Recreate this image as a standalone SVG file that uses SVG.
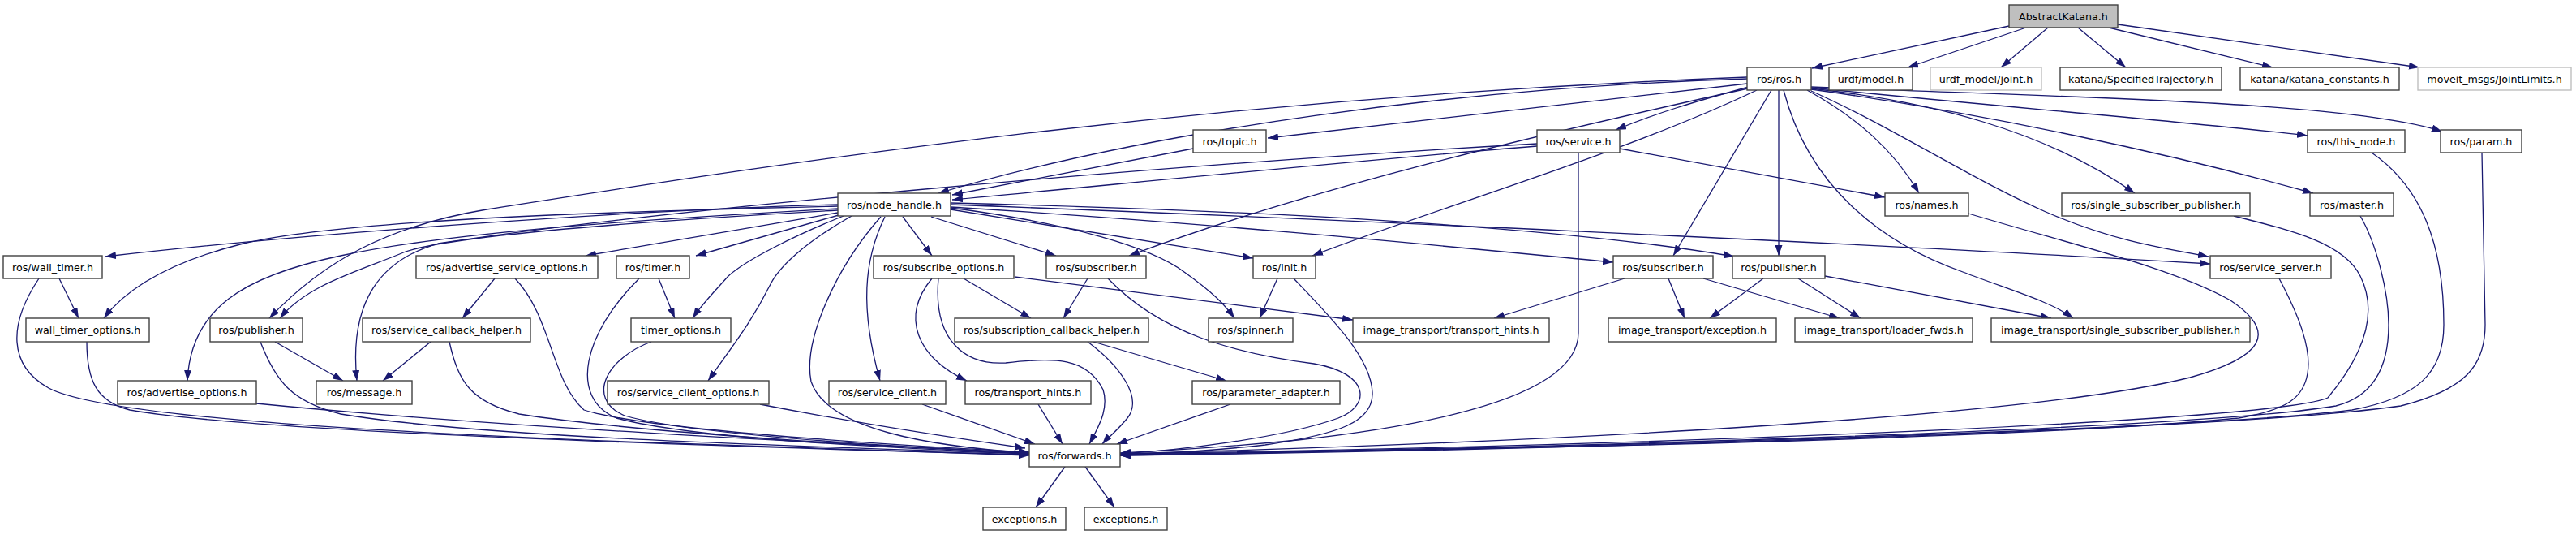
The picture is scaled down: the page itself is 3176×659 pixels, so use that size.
<svg xmlns="http://www.w3.org/2000/svg" width="3176" height="659" viewBox="0 0 3176 659">
<style>
.b{fill:#fff;stroke:#404040;stroke-width:1.4}
.g{fill:#fff;stroke:#bfbfbf;stroke-width:1.4}
.r{fill:#bfbfbf;stroke:#404040;stroke-width:1.4}
text{font-family:"DejaVu Sans",sans-serif;font-size:12.7px;fill:#000;text-anchor:middle}
.e path{fill:none;stroke:#191970;stroke-width:1.3;marker-end:url(#a)}
</style>
<defs>
<marker id="a" markerUnits="userSpaceOnUse" markerWidth="13" markerHeight="9" refX="13" refY="4.5" orient="auto"><path d="M0,0 L13,4.5 L0,9 z" fill="#191970"/></marker>
</defs>
<rect width="3176" height="659" fill="#fff"/>
<g class="e" id="connectors">
<path d="M2477,32 L2234,84"/>
<path d="M2498,34 L2352,83"/>
<path d="M2525,34 L2467,83"/>
<path d="M2562,34 L2621,83"/>
<path d="M2600,34 L2802,83"/>
<path d="M2611,30 L2983,83"/>
<path d="M2154,97 C1800,108 1420,160 1157,238"/>
<path d="M2154,95 C1500,120 1000,195 600,258 C480,278 400,320 332,392"/>
<path d="M2154,103 C1950,125 1750,150 1563,170"/>
<path d="M2156,107 C2090,125 2040,140 1992,160"/>
<path d="M2155,109 C1900,165 1620,230 1392,315"/>
<path d="M2166,111 C2000,190 1760,260 1618,315"/>
<path d="M2184,111 L2063,315"/>
<path d="M2193,111 L2193,315"/>
<path d="M2199,111 C2230,230 2320,300 2420,335 C2480,358 2530,372 2556,392"/>
<path d="M2228,111 C2290,145 2335,185 2366,238"/>
<path d="M2233,109 C2380,125 2520,160 2632,238"/>
<path d="M2233,108 C2450,130 2700,150 2845,167"/>
<path d="M2233,107 C2550,120 2900,125 3011,162"/>
<path d="M2233,110 C2450,140 2680,190 2852,238"/>
<path d="M2233,112 C2340,160 2420,215 2520,260 C2600,295 2660,305 2723,316"/>
<path d="M1471,183 L1174,240"/>
<path d="M1895,180 C1700,195 1400,225 1174,246"/>
<path d="M1895,177 C1400,205 800,260 540,300 C470,320 430,370 440,469"/>
<path d="M1997,183 L2324,243"/>
<path d="M1946,188 L1946,410 C1946,480 1800,520 1600,542 C1500,552 1420,556 1381,558"/>
<path d="M1033,252 C800,258 400,285 130,316"/>
<path d="M1033,254 C700,262 420,272 300,300 C220,320 160,350 128,392"/>
<path d="M1033,257 C800,270 560,285 420,315 C300,340 235,380 231,469"/>
<path d="M1033,259 C800,272 560,290 500,310 C440,335 380,350 345,392"/>
<path d="M1033,262 L722,315"/>
<path d="M1034,265 L858,315"/>
<path d="M1040,266 C980,290 920,320 898,340 C880,360 865,375 854,392"/>
<path d="M1050,266 C990,300 960,330 950,350 C925,400 900,430 873,469"/>
<path d="M1086,267 C1030,330 990,420 1000,470 C1020,530 1150,550 1269,558"/>
<path d="M1091,267 C1065,320 1060,380 1085,469"/>
<path d="M1113,267 L1149,315"/>
<path d="M1148,267 L1302,315"/>
<path d="M1172,258 L1545,318"/>
<path d="M1172,256 C1320,275 1420,305 1460,335 C1495,360 1510,375 1522,392"/>
<path d="M1172,250 C1500,258 1900,275 2138,316"/>
<path d="M1172,252 C1600,268 2300,300 2725,325"/>
<path d="M1172,255 C1500,275 1800,305 1989,323"/>
<path d="M73,343 L97,392"/>
<path d="M48,343 C10,400 10,450 60,478 C120,510 400,530 800,545 C1000,553 1150,558 1269,561"/>
<path d="M107,421 C107,470 120,495 160,505 C300,530 800,548 1269,560"/>
<path d="M339,421 L423,469"/>
<path d="M321,421 C340,470 360,495 420,510 C600,540 1000,550 1269,559"/>
<path d="M531,421 L472,469"/>
<path d="M554,421 C565,470 580,495 640,510 C800,535 1100,550 1269,558"/>
<path d="M610,343 L570,392"/>
<path d="M635,343 C680,390 680,470 720,505 C800,530 1100,548 1269,557"/>
<path d="M316,497 C600,525 1000,545 1269,558"/>
<path d="M812,343 L832,392"/>
<path d="M788,343 C720,410 700,490 760,515 C850,540 1100,552 1269,559"/>
<path d="M803,421 C750,440 720,490 770,512 C850,535 1100,550 1269,558"/>
<path d="M937,498 C1050,520 1180,540 1264,552"/>
<path d="M1137,498 L1276,547"/>
<path d="M1280,498 L1310,547"/>
<path d="M1149,343 C1110,390 1130,440 1192,469"/>
<path d="M1157,343 C1150,420 1190,450 1240,447 C1300,440 1340,440 1360,480 C1368,505 1352,530 1343,547"/>
<path d="M1188,343 L1271,392"/>
<path d="M1251,341 L1668,394"/>
<path d="M1341,343 L1311,392"/>
<path d="M1366,343 C1430,410 1520,435 1620,448 C1690,460 1690,500 1650,515 C1580,540 1450,555 1381,559"/>
<path d="M1575,343 L1553,392"/>
<path d="M1595,343 C1640,390 1690,440 1692,483 C1694,520 1650,535 1560,548 C1480,557 1420,559 1381,561"/>
<path d="M1348,421 L1512,469"/>
<path d="M1341,421 C1380,450 1410,490 1390,515 C1378,530 1365,540 1359,547"/>
<path d="M1517,498 L1377,547"/>
<path d="M2174,343 L2108,392"/>
<path d="M2217,343 L2294,392"/>
<path d="M2250,340 L2529,392"/>
<path d="M2003,343 L1842,392"/>
<path d="M2057,343 L2077,392"/>
<path d="M2100,343 L2268,392"/>
<path d="M2427,263 C2550,300 2680,330 2750,370 C2810,410 2790,440 2700,465 C2500,515 1900,545 1381,559"/>
<path d="M2754,266 C2830,285 2890,300 2910,340 C2930,380 2920,430 2870,490 C2800,520 2000,550 1381,559"/>
<path d="M2910,266 C2930,300 2945,360 2945,400 C2945,460 2920,490 2880,500 C2700,530 1900,552 1381,560"/>
<path d="M2810,343 C2835,390 2850,430 2845,460 C2840,490 2820,505 2760,515 C2500,540 1900,553 1381,560"/>
<path d="M2924,188 C2985,230 3013,300 3013,400 C3013,460 2980,490 2900,505 C2700,530 1900,553 1381,561"/>
<path d="M3060,188 L3064,400 C3064,450 3040,480 2960,500 C2750,530 1900,555 1381,561"/>
<path d="M1313,575 L1277,625"/>
<path d="M1338,575 L1374,625"/>
</g>
<g id="n_abstractkatana"><rect class="r" x="2477" y="6" width="134" height="28"/><text x="2544" y="24.5">AbstractKatana.h</text></g>
<g id="n_ros"><rect class="b" x="2154" y="83" width="79" height="28"/><text x="2193.5" y="101.5">ros/ros.h</text></g>
<g id="n_urdf_model"><rect class="b" x="2255" y="83" width="103" height="28"/><text x="2306.5" y="101.5">urdf/model.h</text></g>
<g id="n_urdf_joint"><rect class="g" x="2380" y="83" width="137" height="28"/><text x="2448.5" y="101.5">urdf_model/joint.h</text></g>
<g id="n_spec"><rect class="b" x="2540" y="83" width="199" height="28"/><text x="2639.5" y="101.5">katana/SpecifiedTrajectory.h</text></g>
<g id="n_kconst"><rect class="b" x="2762" y="83" width="196" height="28"/><text x="2860" y="101.5">katana/katana_constants.h</text></g>
<g id="n_jointlimits"><rect class="g" x="2981" y="83" width="189" height="28"/><text x="3075.5" y="101.5">moveit_msgs/JointLimits.h</text></g>
<g id="n_topic"><rect class="b" x="1471" y="160" width="90" height="28"/><text x="1516" y="178.5">ros/topic.h</text></g>
<g id="n_service"><rect class="b" x="1895" y="160" width="102" height="28"/><text x="1946" y="178.5">ros/service.h</text></g>
<g id="n_this_node"><rect class="b" x="2845" y="160" width="120" height="28"/><text x="2905" y="178.5">ros/this_node.h</text></g>
<g id="n_param"><rect class="b" x="3009" y="160" width="100" height="28"/><text x="3059" y="178.5">ros/param.h</text></g>
<g id="n_node_handle"><rect class="b" x="1033" y="238" width="139" height="28"/><text x="1102.5" y="256.5">ros/node_handle.h</text></g>
<g id="n_names"><rect class="b" x="2324" y="238" width="103" height="28"/><text x="2375.5" y="256.5">ros/names.h</text></g>
<g id="n_ssp"><rect class="b" x="2542" y="238" width="232" height="28"/><text x="2658" y="256.5">ros/single_subscriber_publisher.h</text></g>
<g id="n_master"><rect class="b" x="2848" y="238" width="103" height="28"/><text x="2899.5" y="256.5">ros/master.h</text></g>
<g id="n_wall_timer"><rect class="b" x="4" y="315" width="122" height="28"/><text x="65" y="333.5">ros/wall_timer.h</text></g>
<g id="n_aso"><rect class="b" x="513" y="315" width="224" height="28"/><text x="625" y="333.5">ros/advertise_service_options.h</text></g>
<g id="n_timer"><rect class="b" x="760" y="315" width="90" height="28"/><text x="805" y="333.5">ros/timer.h</text></g>
<g id="n_so"><rect class="b" x="1077" y="315" width="173" height="28"/><text x="1163.5" y="333.5">ros/subscribe_options.h</text></g>
<g id="n_sub1"><rect class="b" x="1290" y="315" width="123" height="28"/><text x="1351.5" y="333.5">ros/subscriber.h</text></g>
<g id="n_init"><rect class="b" x="1545" y="315" width="77" height="28"/><text x="1583.5" y="333.5">ros/init.h</text></g>
<g id="n_sub2"><rect class="b" x="1989" y="315" width="123" height="28"/><text x="2050.5" y="333.5">ros/subscriber.h</text></g>
<g id="n_pub2"><rect class="b" x="2136" y="315" width="114" height="28"/><text x="2193" y="333.5">ros/publisher.h</text></g>
<g id="n_ss"><rect class="b" x="2725" y="315" width="149" height="28"/><text x="2799.5" y="333.5">ros/service_server.h</text></g>
<g id="n_wto"><rect class="b" x="32" y="392" width="152" height="29"/><text x="108" y="411">wall_timer_options.h</text></g>
<g id="n_pub1"><rect class="b" x="259" y="392" width="114" height="29"/><text x="316" y="411">ros/publisher.h</text></g>
<g id="n_sch"><rect class="b" x="447" y="392" width="207" height="29"/><text x="550.5" y="411">ros/service_callback_helper.h</text></g>
<g id="n_to"><rect class="b" x="778" y="392" width="123" height="29"/><text x="839.5" y="411">timer_options.h</text></g>
<g id="n_subcb"><rect class="b" x="1177" y="392" width="239" height="29"/><text x="1296.5" y="411">ros/subscription_callback_helper.h</text></g>
<g id="n_spinner"><rect class="b" x="1490" y="392" width="104" height="29"/><text x="1542" y="411">ros/spinner.h</text></g>
<g id="n_it_th"><rect class="b" x="1668" y="392" width="242" height="29"/><text x="1789" y="411">image_transport/transport_hints.h</text></g>
<g id="n_it_exc"><rect class="b" x="1983" y="392" width="207" height="29"/><text x="2086.5" y="411">image_transport/exception.h</text></g>
<g id="n_it_lf"><rect class="b" x="2213" y="392" width="219" height="29"/><text x="2322.5" y="411">image_transport/loader_fwds.h</text></g>
<g id="n_it_ssp"><rect class="b" x="2455" y="392" width="319" height="29"/><text x="2614.5" y="411">image_transport/single_subscriber_publisher.h</text></g>
<g id="n_ao"><rect class="b" x="145" y="469" width="171" height="29"/><text x="230.5" y="488">ros/advertise_options.h</text></g>
<g id="n_msg"><rect class="b" x="390" y="469" width="118" height="29"/><text x="449" y="488">ros/message.h</text></g>
<g id="n_sco"><rect class="b" x="749" y="469" width="199" height="29"/><text x="848.5" y="488">ros/service_client_options.h</text></g>
<g id="n_sc"><rect class="b" x="1022" y="469" width="144" height="29"/><text x="1094" y="488">ros/service_client.h</text></g>
<g id="n_th"><rect class="b" x="1190" y="469" width="155" height="29"/><text x="1267.5" y="488">ros/transport_hints.h</text></g>
<g id="n_pa"><rect class="b" x="1470" y="469" width="182" height="29"/><text x="1561" y="488">ros/parameter_adapter.h</text></g>
<g id="n_fwd"><rect class="b" x="1269" y="547" width="112" height="28"/><text x="1325" y="565.5">ros/forwards.h</text></g>
<g id="n_exc1"><rect class="b" x="1212" y="625" width="102" height="28"/><text x="1263" y="643.5">exceptions.h</text></g>
<g id="n_exc2"><rect class="b" x="1337" y="625" width="102" height="28"/><text x="1388" y="643.5">exceptions.h</text></g>
</svg>
